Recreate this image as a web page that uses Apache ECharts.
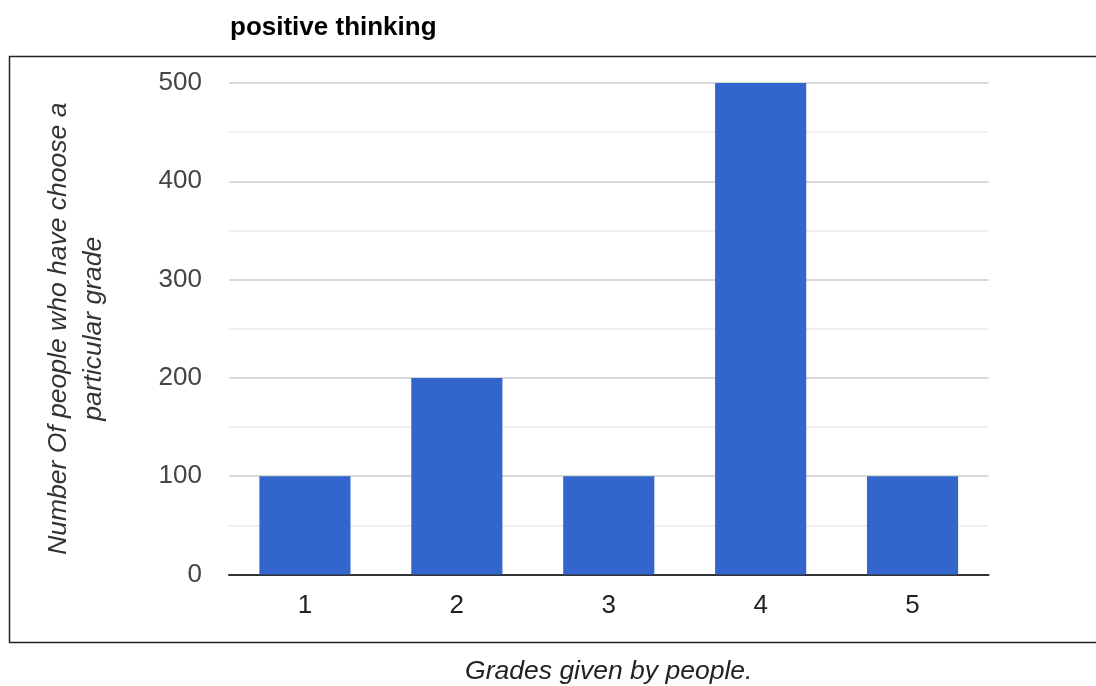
<!DOCTYPE html>
<html>
<head>
<meta charset="utf-8">
<script src="https://cdn.jsdelivr.net/npm/echarts@6/dist/echarts.min.js"></script>
<style>
html,body{margin:0;padding:0;background:#fff;}
#c{width:1096px;height:686px;}
</style>
</head>
<body>
<div id="c"></div>
<script>
var categories = ['1', '2', '3', '4', '5'];
var counts = [100, 200, 100, 500, 100];
var titleText = 'positive thinking';
var xName = 'Grades given by people.';
var yName = 'Number Of people who have choose a\nparticular grade';

var chart = echarts.init(document.getElementById('c'));
var font = 'Liberation Sans, Arial, sans-serif';
chart.setOption({
  animation: false,
  title: {
    text: titleText,
    left: 230,
    top: 15,
    padding: 0,
    textStyle: { fontFamily: font, fontSize: 26, fontWeight: 'bold', color: '#000' }
  },
  graphic: [{
    type: 'rect',
    shape: { x: 9.5, y: 56.5, width: 1200, height: 586 },
    style: { fill: 'none', stroke: '#222', lineWidth: 1.5 },
    silent: true
  }],
  grid: { left: 229, right: 107.5, top: 83, bottom: 111.5, outerBoundsMode: 'none', containLabel: false },
  xAxis: {
    type: 'category',
    data: categories,
    name: xName,
    nameLocation: 'middle',
    nameGap: 97,
    nameTextStyle: { fontFamily: font, fontSize: 26.5, fontStyle: 'italic', color: '#222', verticalAlign: 'middle' },
    axisLine: { show: true, lineStyle: { color: '#333', width: 2 } },
    axisTick: { show: false },
    axisLabel: { fontFamily: font, fontSize: 26, color: '#222', margin: 18 }
  },
  yAxis: {
    type: 'value',
    min: 0,
    max: 500,
    interval: 100,
    name: yName,
    nameLocation: 'middle',
    nameRotate: 90,
    nameGap: 153,
    nameTextStyle: { fontFamily: font, fontSize: 26.5, fontStyle: 'italic', color: '#333', lineHeight: 35, verticalAlign: 'middle', align: 'center' },
    axisLine: { show: false },
    axisTick: { show: false },
    axisLabel: { fontFamily: font, fontSize: 26, color: '#444', margin: 27 },
    splitLine: { show: true, lineStyle: { color: '#cccccc', width: 1.5 } },
    minorTick: { show: false, splitNumber: 2 },
    minorSplitLine: { show: true, lineStyle: { color: '#ebebeb', width: 1.5 } }
  },
  series: [{
    type: 'bar',
    data: counts,
    barCategoryGap: '40%',
    itemStyle: { color: '#3366cc' }
  }]
});
</script>
</body>
</html>
